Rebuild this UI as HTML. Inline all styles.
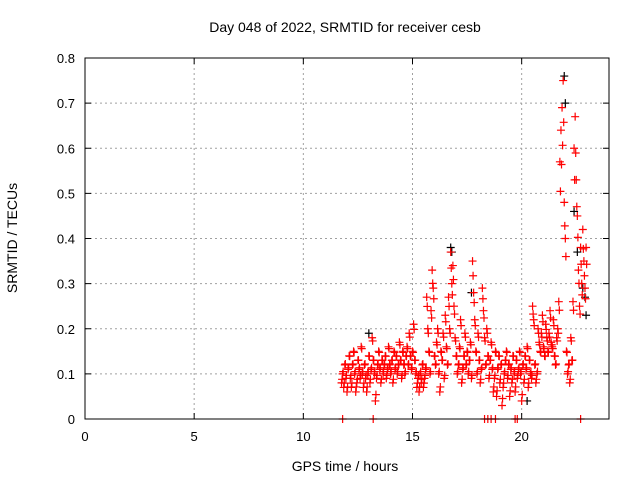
<!DOCTYPE html>
<html><head><meta charset="utf-8"><style>
body{margin:0;background:#fff}
svg{display:block;font-family:"Liberation Sans",sans-serif}
</style></head><body>
<svg id="chart" width="640" height="480" viewBox="0 0 640 480">
<text x="345" y="32" text-anchor="middle" font-size="14">Day 048 of 2022, SRMTID for receiver cesb</text>
<text transform="translate(17,238) rotate(-90)" text-anchor="middle" font-size="14">SRMTID / TECUs</text>
<text x="345" y="471" text-anchor="middle" font-size="14">GPS time / hours</text>
<g id="grid"></g><g id="marks"></g><g id="axes"></g>
</svg>
<script>
const xTicks=[0,5,10,15,20];
const yTicks=[0,0.1,0.2,0.3,0.4,0.5,0.6,0.7,0.8];
const startTime=11.75, step=0.05;
const srmtid=[
0.08,0.1,0.07,0.12,0.09,0.06,0.11,0.14,0.09,0.07,0.12,0.15,0.1,0.06,0.08,0.13,0.11,0.09,0.16,0.1,
0.07,0.12,0.09,0.06,0.1,0.14,0.08,0.11,0.18,0.13,0.1,0.04,0.09,0.12,0.15,0.11,0.08,0.13,0.1,0.12,
0.14,0.09,0.11,0.16,0.12,0.1,0.13,0.08,0.15,0.11,0.14,0.1,0.12,0.17,0.13,0.09,0.15,0.12,0.1,0.14,
0.16,0.12,0.19,0.14,0.11,0.15,0.21,0.13,0.1,0.07,0.09,0.06,0.1,0.08,0.12,0.07,0.09,0.11,0.27,0.2,
0.15,0.1,0.24,0.33,0.29,0.14,0.12,0.17,0.2,0.1,0.06,0.15,0.13,0.19,0.09,0.23,0.16,0.12,0.27,0.2,
0.37,0.3,0.34,0.25,0.18,0.14,0.1,0.12,0.16,0.22,0.08,0.11,0.14,0.19,0.12,0.15,0.1,0.13,0.17,0.09,
0.35,0.28,0.22,0.15,0.1,0.19,0.13,0.08,0.11,0.29,0.24,0.18,0.12,0.2,0.14,0.09,0.13,0.17,0.11,0.06,
0.09,0.15,0.05,0.11,0.14,0.08,0.12,0.03,0.07,0.1,0.13,0.15,0.09,0.12,0.05,0.11,0.08,0.14,0.1,0.06,
0.13,0.09,0.11,0.15,0.1,0.04,0.12,0.08,0.14,0.11,0.16,0.07,0.13,0.1,0.09,0.25,0.22,0.12,0.08,0.1,
0.2,0.17,0.15,0.19,0.23,0.16,0.14,0.21,0.18,0.15,0.19,0.24,0.17,0.16,0.22,0.14,0.12,0.18,0.2,0.26,
0.57,0.64,0.69,0.75,0.48,0.4,0.15,0.1,0.12,0.08,0.18,0.13,0.26,0.6,0.67,0.53,0.45,0.33,0.25,0.38,
0.3,0.42,0.35,0.29,0.38];
const blackTimes=[13.0,16.75,16.8,17.7,20.25,21.95,22.0,22.4,22.55,22.8,22.9,22.95];
const blackValues=[0.19,0.38,0.37,0.28,0.04,0.76,0.7,0.46,0.37,0.29,0.27,0.23];
const zeroTimes=[11.8,13.2,18.3,18.45,18.6,18.8,19.7,19.8,22.7];
const L=85,R=609,T=58,B=419;
const xs=v=>L+(v/24)*(R-L), ys=v=>B-(v/0.8)*(B-T);
const NS="http://www.w3.org/2000/svg";
function mk(tag,attrs,parent){const e=document.createElementNS(NS,tag);for(const k in attrs)e.setAttribute(k,attrs[k]);parent.appendChild(e);return e;}
const grid=document.getElementById('grid'),axes=document.getElementById('axes'),marks=document.getElementById('marks');
xTicks.forEach(t=>{const x=xs(t);
 if(t>0){const g=mk('line',{x1:x,x2:x,y1:T,y2:B,stroke:'#a0a0a0','stroke-dasharray':'2,3'},grid);
 
 }
 mk('line',{x1:x,x2:x,y1:B,y2:B-6,stroke:'#000'},axes);mk('line',{x1:x,x2:x,y1:T,y2:T+6,stroke:'#000'},axes);
 const tx=mk('text',{x:x,y:B+22,'text-anchor':'middle','font-size':13},axes);tx.textContent=t;
 
 });
yTicks.forEach(t=>{const y=ys(t);
 if(t>0&&t<0.8){const g=mk('line',{x1:L,x2:R,y1:y,y2:y,stroke:'#a0a0a0','stroke-dasharray':'2,3'},grid);
 
 }
 mk('line',{x1:L,x2:L+6,y1:y,y2:y,stroke:'#000'},axes);mk('line',{x1:R,x2:R-6,y1:y,y2:y,stroke:'#000'},axes);
 const tx=mk('text',{x:L-10,y:y+5,'text-anchor':'end','font-size':13},axes);tx.textContent=t===0?'0':t.toFixed(1);
 
 });
const fr=mk('rect',{x:L,y:T,width:R-L,height:B-T,fill:'none',stroke:'#000'},axes);


function plus(t,v,color,name){const x=xs(t),y=ys(v);
 const p=mk('path',{d:`M${x-4},${y}H${x+4}M${x},${y-4}V${y+4}`,stroke:color,'stroke-width':1.2,fill:'none'},marks);
 
 }
blackTimes.forEach((t,i)=>plus(t,blackValues[i],'#000','srmtid-point-black'));
srmtid.forEach((v,i)=>plus(startTime+i*step,v,'#f00','srmtid-point'));
srmtid.forEach((v,i)=>plus(startTime+i*step+0.025,v*0.85+0.02,'#f00','srmtid-point'));
zeroTimes.forEach(t=>plus(t,0,'#f00','zero-point'));
</script>
</body></html>
